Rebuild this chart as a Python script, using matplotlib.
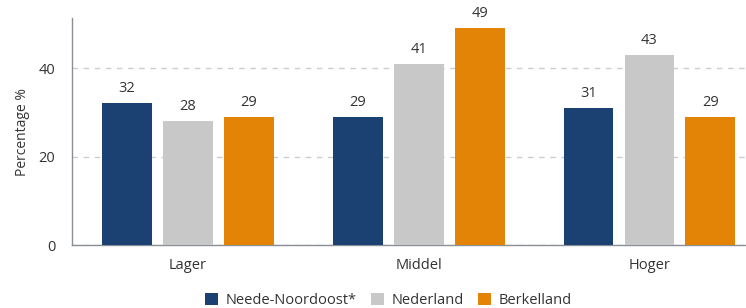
import numpy as np
import matplotlib.pyplot as plt

plt.rcParams['font.family'] = ['Open Sans', 'DejaVu Sans']

categories = ['Lager', 'Middel', 'Hoger']
series = ['Neede-Noordoost*', 'Nederland', 'Berkelland']
values = [[32, 29, 31],
          [28, 41, 43],
          [29, 49, 29]]
colors = ['#1b4172', '#c8c8c8', '#e38406']

fig = plt.figure(figsize=(7.46, 3.08), dpi=100)
ax = fig.add_axes([0.0965, 0.2045, 0.9025, 0.737])

x = np.arange(len(categories))
step = 0.264
width = 0.216
for i, (name, vals, c) in enumerate(zip(series, values, colors)):
    pos = x + (i - 1) * step
    ax.bar(pos, vals, width, color=c, label=name, zorder=3)
    for p, v in zip(pos, vals):
        ax.text(p, v + 1.6, str(v), ha='center', va='bottom', fontsize=10.5, color='#333333')

ax.set_xlim(-0.502, 2.415)
ax.set_ylim(0, 51.3)
ax.set_yticks([0, 20, 40])
ax.set_xticks(x)
ax.set_xticklabels(categories)
ax.tick_params(axis='both', length=0, labelsize=10.5, colors='#333333')
ax.tick_params(axis='y', pad=12)
ax.tick_params(axis='x', pad=9)
ax.set_ylabel('Percentage %', fontsize=10, color='#333333', labelpad=6)
ax.yaxis.grid(True, linestyle=(0, (4, 4)), color='#cccccc', linewidth=1, zorder=0)
for s in ['top', 'right']:
    ax.spines[s].set_visible(False)
for s in ['left', 'bottom']:
    ax.spines[s].set_color('#8a8f96')
    ax.spines[s].set_linewidth(1)

ax.legend(loc='center', bbox_to_anchor=(0.47, -0.245), ncol=3, frameon=False,
          fontsize=10.5, handlelength=0.9, handleheight=0.9, handletextpad=0.5,
          columnspacing=1.0, labelcolor='#333333', borderpad=0)

plt.savefig('out.png', dpi=100)
